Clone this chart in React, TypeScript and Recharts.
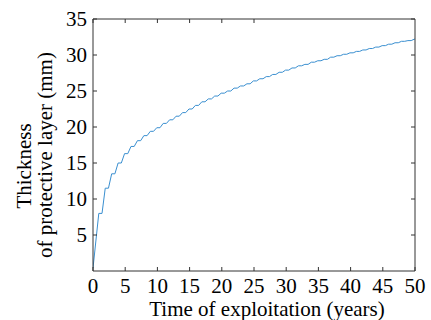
import React from 'react';
import { LineChart, Line, XAxis, YAxis } from 'recharts';

// thickness at the end of each yearly growth phase, years 1..50 (mm)
const thickness = [
  8.0, 11.5, 13.5, 15.0, 16.3, 17.3, 18.1, 18.8, 19.4, 19.9,
  20.5, 21.0, 21.5, 22.0, 22.5, 23.0, 23.5, 23.9, 24.3, 24.7,
  25.0, 25.4, 25.7, 26.0, 26.4, 26.7, 27.0, 27.3, 27.6, 27.9,
  28.2, 28.5, 28.7, 29.0, 29.2, 29.4, 29.7, 29.9, 30.1, 30.3,
  30.5, 30.7, 30.9, 31.1, 31.3, 31.5, 31.7, 31.9, 32.0, 32.2,
];
const startThickness = 0.4;
const xTicks = [0, 5, 10, 15, 20, 25, 30, 35, 40, 45, 50];
const yTicks = [5, 10, 15, 20, 25, 30, 35];

// each year: growth ends shortly before the year mark, then a flat stretch
const data: { t: number; v: number }[] = [{ t: 0, v: startThickness }];
thickness.forEach((v, i) => {
  const year = i + 1;
  data.push({ t: year - 0.1, v });
  data.push({ t: Math.min(year + 0.4, 50), v });
});

const FONT = '"Liberation Serif", "Times New Roman", serif';
const AXIS = '#333';
const FS = 21;

const BottomTick = (props: any) => {
  const { x, y, payload } = props;
  return (
    <g>
      <line x1={x} y1={y} x2={x} y2={y - 4} stroke={AXIS} />
      <text x={x} y={y + 22} textAnchor="middle" style={{ fontFamily: FONT, fontSize: FS }} fill="#000">
        {payload.value}
      </text>
    </g>
  );
};

const LeftTick = (props: any) => {
  const { x, y, payload } = props;
  return (
    <g>
      <line x1={x} y1={y} x2={x + 4} y2={y} stroke={AXIS} />
      <text x={x - 6} y={y + 7} textAnchor="end" style={{ fontFamily: FONT, fontSize: FS }} fill="#000">
        {payload.value}
      </text>
    </g>
  );
};

const TopTick = (props: any) => (
  <line x1={props.x} y1={19} x2={props.x} y2={23} stroke={AXIS} />
);

const RightTick = (props: any) => (
  <line x1={415} y1={props.y} x2={411} y2={props.y} stroke={AXIS} />
);

const XLabel = () => (
  <text x={267} y={316} textAnchor="middle" style={{ fontFamily: FONT, fontSize: FS }} fill="#000">
    Time of exploitation (years)
  </text>
);

const YLabel = () => (
  <g style={{ fontFamily: FONT, fontSize: FS }} fill="#000">
    <text x={31} y={166} transform="rotate(-90 31 166)" textAnchor="middle">
      Thickness
    </text>
    <text x={52} y={155} transform="rotate(-90 52 155)" textAnchor="middle">
      of protective layer (mm)
    </text>
  </g>
);

export default function App() {
  return (
    <div style={{ position: 'absolute', left: 0, top: 0, background: '#fff' }}>
      <LineChart width={431} height={320} data={data} margin={{ top: 18, right: 15, bottom: 0, left: 0 }}>
        <XAxis
          dataKey="t"
          type="number"
          domain={[0, 50]}
          ticks={xTicks}
          height={49}
          stroke={AXIS}
          tickLine={false}
          tickSize={0}
          tickMargin={0}
          tick={<BottomTick />}
          label={<XLabel />}
          allowDataOverflow
        />
        <XAxis
          xAxisId="top"
          orientation="top"
          type="number"
          domain={[0, 50]}
          ticks={xTicks}
          height={1}
          stroke={AXIS}
          tickLine={false}
          tickSize={0}
          tickMargin={0}
          tick={<TopTick />}
          allowDataOverflow
        />
        <YAxis
          type="number"
          domain={[0, 35]}
          ticks={yTicks}
          width={93}
          stroke={AXIS}
          tickLine={false}
          tickSize={0}
          tickMargin={0}
          tick={<LeftTick />}
          label={<YLabel />}
          allowDataOverflow
        />
        <YAxis
          yAxisId="right"
          orientation="right"
          type="number"
          domain={[0, 35]}
          ticks={yTicks}
          width={1}
          stroke={AXIS}
          tickLine={false}
          tickSize={0}
          tickMargin={0}
          tick={<RightTick />}
          allowDataOverflow
        />
        <Line
          dataKey="v"
          type="linear"
          stroke="#3a8fd0"
          strokeWidth={1}
          dot={false}
          isAnimationActive={false}
        />
      </LineChart>
    </div>
  );
}
